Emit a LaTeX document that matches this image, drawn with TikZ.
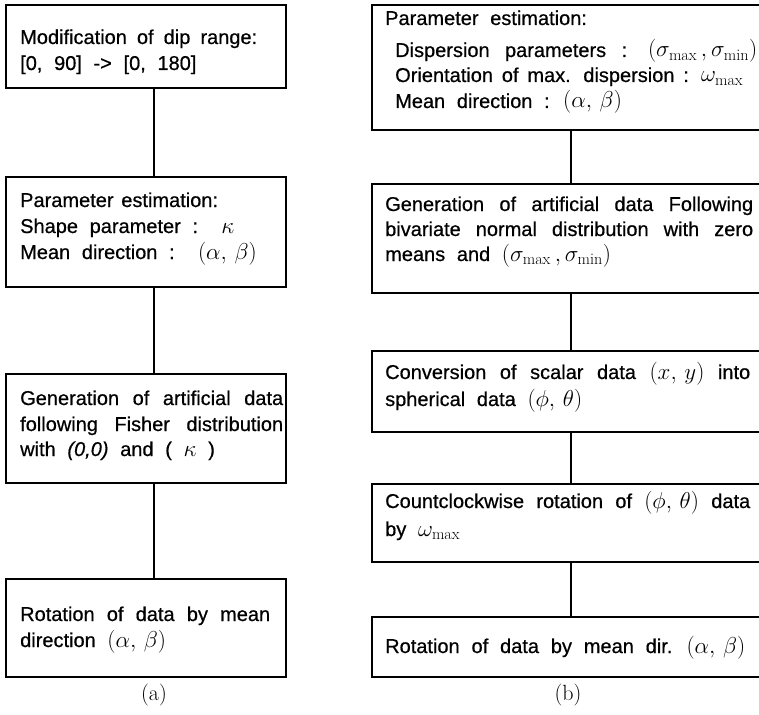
\RequirePackage{fix-cm}
\documentclass[tikz,border=0pt]{standalone}
\usepackage{fontspec}
\setsansfont{Liberation Sans}[WordSpace=2.1, FakeBold=0.6]
\newcommand{\jl}[2]{\makebox[#1][s]{#2}}
\newcommand{\mth}[1]{{\fontsize{23}{25}\selectfont$#1$}}
\tikzset{
  box/.style={draw, line width=1.3pt, anchor=north west, inner sep=0pt, outer sep=0pt},
  ln/.style={anchor=base west, inner sep=0pt, font=\sffamily\fontsize{20}{22}\selectfont},
  conn/.style={line width=1.1pt},
  lab/.style={inner sep=0pt, font=\fontsize{22}{24}\selectfont}
}
\begin{document}
\begin{tikzpicture}[x=1pt,y=1pt]
\useasboundingbox (0,0) rectangle (759,-714);
% ---------- left column (a)
\node[box, minimum width=280pt, minimum height=83pt]  (L1) at (6,-5) {};
\node[box, minimum width=280pt, minimum height=110pt] (L2) at (6,-177) {};
\node[box, minimum width=280pt, minimum height=109pt] (L3) at (6,-374) {};
\node[box, minimum width=280pt, minimum height=98pt]  (L4) at (6,-579) {};
\coordinate (cl) at (154,0);
\draw[conn] (L1.south -| cl) -- (L2.north -| cl);
\draw[conn] (L2.south -| cl) -- (L3.north -| cl);
\draw[conn] (L3.south -| cl) -- (L4.north -| cl);

\node[ln] (l1a) at (20,-44) {\jl{237pt}{Modification of dip range:}};
\node[ln] (l1b) at (20,-70) {[0, 90] -> [0, 180]};
\node[ln] (l2a) at (20,-207) {\jl{194pt}{Parameter estimation:}};
\node[ln] (l2b) at (20,-233) {Shape parameter :\ \ \mth{\kappa}};
\node[ln] (l2c) at (20,-259) {Mean direction :\ \ \mth{(\alpha,\,\beta)}};
\node[ln] (l3a) at (20,-405) {\jl{263pt}{Generation of artificial data}};
\node[ln] (l3b) at (20,-431) {\jl{263pt}{following Fisher distribution}};
\node[ln] (l3c) at (20,-456) {with \textit{(0,0)} and ( \mth{\kappa} )};
\node[ln] (l4a) at (20,-621) {\jl{250pt}{Rotation of data by mean}};
\node[ln] (l4b) at (20,-647) {direction \mth{(\alpha,\,\beta)}};
\node[lab] (la) at (154,-695) {(a)};

% ---------- right column (b)
\node[box, minimum width=394pt, minimum height=125pt] (R1) at (372,-5) {};
\node[box, minimum width=394pt, minimum height=109pt] (R2) at (372,-184) {};
\node[box, minimum width=394pt, minimum height=81pt]  (R3) at (372,-351) {};
\node[box, minimum width=394pt, minimum height=78pt]  (R4) at (372,-484) {};
\node[box, minimum width=394pt, minimum height=60pt]  (R5) at (372,-617) {};
\coordinate (cr) at (571,0);
\draw[conn] (R1.south -| cr) -- (R2.north -| cr);
\draw[conn] (R2.south -| cr) -- (R3.north -| cr);
\draw[conn] (R3.south -| cr) -- (R4.north -| cr);
\draw[conn] (R4.south -| cr) -- (R5.north -| cr);

\node[ln] (r1a) at (385,-25) {Parameter estimation:};
\node[ln] (r1b) at (395,-57) {\jl{362pt}{Dispersion parameters : \mth{(\sigma_{\max}\,,\sigma_{\min})}}};
\node[ln] (r1c) at (395,-82) {\jl{348pt}{Orientation of max. dispersion : \mth{\omega_{\max}}}};
\node[ln] (r1d) at (395,-108) {Mean direction : \mth{(\alpha,\,\beta)}};
\node[ln] (r2a) at (385,-211) {\jl{368pt}{Generation of artificial data Following}};
\node[ln] (r2b) at (385,-236) {\jl{368pt}{bivariate normal distribution with zero}};
\node[ln] (r2c) at (385,-261) {means and \mth{(\sigma_{\max}\,,\sigma_{\min})}};
\node[ln] (r3a) at (385,-379) {\jl{365pt}{Conversion of scalar data \mth{(x,\,y)} into}};
\node[ln] (r3b) at (385,-406) {spherical data \mth{(\phi,\,\theta)}};
\node[ln] (r4a) at (385,-508) {\jl{365pt}{Countclockwise rotation of \mth{(\phi,\,\theta)} data}};
\node[ln] (r4b) at (385,-536) {by \mth{\omega_{\max}}};
\node[ln] (r5a) at (385,-653) {\jl{360pt}{Rotation of data by mean dir. \mth{(\alpha,\,\beta)}}};
\node[lab] (lb) at (568,-695) {(b)};
\end{tikzpicture}
\end{document}
